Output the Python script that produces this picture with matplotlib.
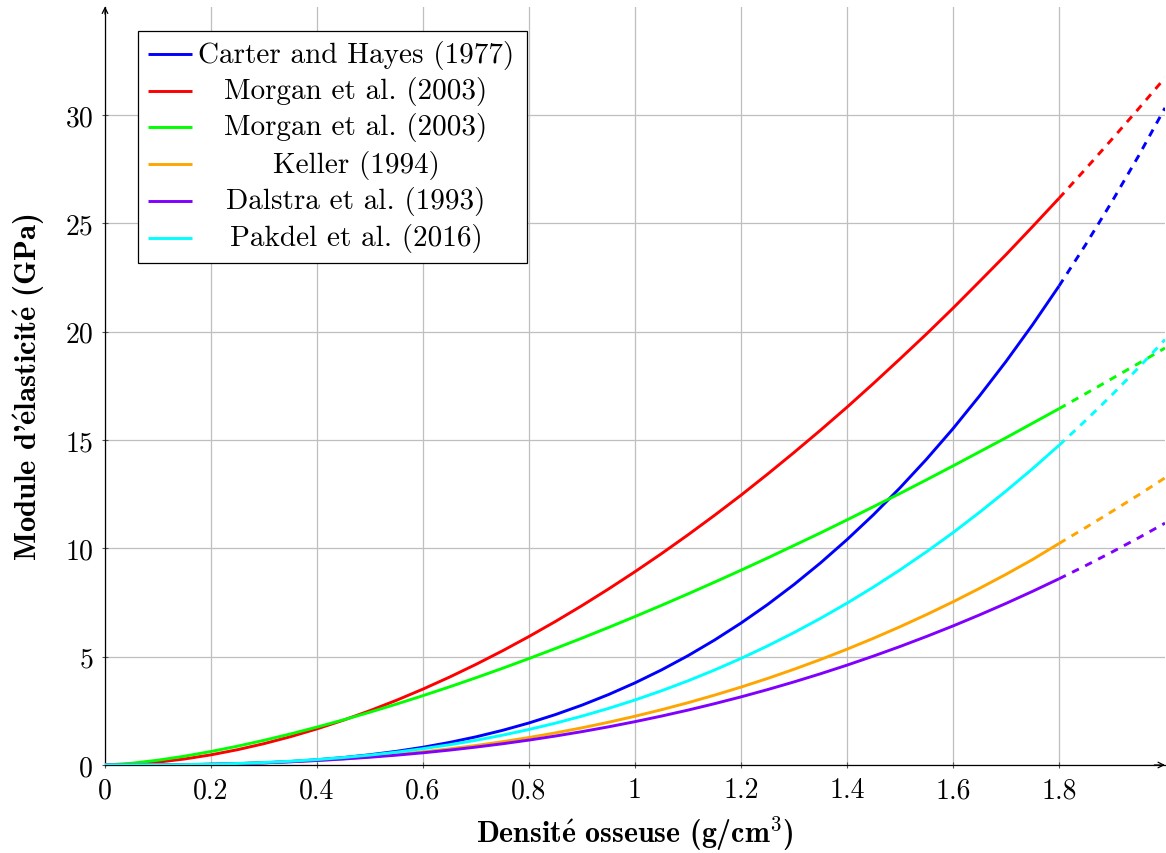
import matplotlib
matplotlib.use("Agg")
import matplotlib.pyplot as plt
from matplotlib.patches import Rectangle

plt.rcParams['font.family'] = ['cmr10', 'DejaVu Serif']
plt.rcParams['mathtext.fontset'] = 'cm'
plt.rcParams['axes.formatter.use_mathtext'] = True

# Density (g/cm^3)
density = [0.0, 0.05, 0.1, 0.15, 0.2, 0.25, 0.3, 0.35, 0.4, 0.45, 0.5,
           0.55, 0.6, 0.65, 0.7, 0.75, 0.8, 0.85, 0.9, 0.95, 1.0,
           1.05, 1.1, 1.15, 1.2, 1.25, 1.3, 1.35, 1.4, 1.45, 1.5,
           1.55, 1.6, 1.65, 1.7, 1.75, 1.8, 1.85, 1.9, 1.95, 2.0]

# Elastic modulus (GPa)
carter = [0.0, 0.0005, 0.004, 0.013, 0.030, 0.059, 0.102, 0.163, 0.243, 0.345, 0.474,
          0.631, 0.819, 1.041, 1.300, 1.599, 1.940, 2.328, 2.763, 3.250, 3.79,
          4.387, 5.044, 5.764, 6.549, 7.402, 8.327, 9.325, 10.40, 11.55, 12.79,
          14.11, 15.52, 17.03, 18.62, 20.31, 22.10, 24.00, 26.00, 28.10, 30.32]
morgan_red = [0.0, 0.037, 0.132, 0.277, 0.469, 0.706, 0.985, 1.306, 1.668, 2.069, 2.509,
              2.987, 3.503, 4.055, 4.644, 5.269, 5.930, 6.625, 7.355, 8.121, 8.92,
              9.753, 10.62, 11.52, 12.45, 13.42, 14.42, 15.45, 16.51, 17.61, 18.74,
              19.89, 21.08, 22.31, 23.55, 24.84, 26.15, 27.50, 28.88, 30.28, 31.71]
morgan_green = [0.0, 0.079, 0.222, 0.406, 0.623, 0.868, 1.139, 1.433, 1.749, 2.084, 2.439,
                2.811, 3.200, 3.605, 4.026, 4.462, 4.913, 5.377, 5.855, 6.346, 6.85,
                7.367, 7.895, 8.436, 8.988, 9.551, 10.13, 10.71, 11.31, 11.92, 12.53,
                13.16, 13.80, 14.45, 15.10, 15.77, 16.44, 17.13, 17.83, 18.53, 19.24]
keller = [0.0, 0.001, 0.006, 0.017, 0.036, 0.064, 0.102, 0.152, 0.214, 0.289, 0.379,
          0.484, 0.606, 0.744, 0.900, 1.074, 1.268, 1.482, 1.716, 1.972, 2.25,
          2.551, 2.874, 3.223, 3.595, 3.992, 4.417, 4.866, 5.343, 5.847, 6.379,
          6.940, 7.529, 8.150, 8.798, 9.479, 10.22, 10.95, 11.70, 12.46, 13.25]
dalstra = [0.0, 0.001, 0.007, 0.018, 0.037, 0.064, 0.101, 0.148, 0.206, 0.276, 0.359,
           0.454, 0.563, 0.687, 0.826, 0.980, 1.150, 1.337, 1.540, 1.761, 2.0,
           2.257, 2.533, 2.829, 3.143, 3.478, 3.834, 4.210, 4.607, 5.027, 5.467,
           5.931, 6.416, 6.925, 7.456, 8.012, 8.592, 9.196, 9.826, 10.48, 11.16]
pakdel = [0.0, 0.001, 0.006, 0.018, 0.038, 0.070, 0.115, 0.174, 0.250, 0.345, 0.459,
          0.594, 0.752, 0.933, 1.141, 1.376, 1.639, 1.931, 2.255, 2.611, 3.0,
          3.424, 3.884, 4.382, 4.917, 5.492, 6.109, 6.766, 7.467, 8.212, 9.002,
          9.840, 10.72, 11.66, 12.64, 13.67, 14.75, 15.89, 17.08, 18.33, 19.63]

labels = ["Carter and Hayes (1977)", "Morgan et al. (2003)", "Morgan et al. (2003)",
          "Keller (1994)", "Dalstra et al. (1993)", "Pakdel et al. (2016)"]
colors = ["#0000FF", "#FF0000", "#00FF00", "#FFA500", "#8000FF", "#00FFFF"]
series = [carter, morgan_red, morgan_green, keller, dalstra, pakdel]

xticks = [0, 0.2, 0.4, 0.6, 0.8, 1.0, 1.2, 1.4, 1.6, 1.8]
xticklabels = ["0", "0.2", "0.4", "0.6", "0.8", "1", "1.2", "1.4", "1.6", "1.8"]
yticks = [0, 5, 10, 15, 20, 25, 30]
yticklabels = ["0", "5", "10", "15", "20", "25", "30"]

W, H = 1166, 854
fig = plt.figure(figsize=(W / 100, H / 100), dpi=100)
ax_l, ax_r, ax_b, ax_t = 105, 1165, 766, 7.5
ax = fig.add_axes([ax_l / W, (H - ax_b) / H, (ax_r - ax_l) / W, (ax_b - ax_t) / H])

split = density.index(1.8)  # solid up to 1.8, dashed beyond
lw = 2.1
for ys, c in zip(series, colors):
    ax.plot(density[:split + 1], ys[:split + 1], color=c, lw=lw, solid_capstyle='butt',
            solid_joinstyle='round', zorder=3)
    ax.plot(density[split:], ys[split:], color=c, lw=lw, linestyle=(0, (2.6, 2.4)),
            dash_capstyle='butt', zorder=3)

ax.set_xlim(0, 2.0)
ax.set_ylim(0, 35)
ax.set_xticks(xticks)
ax.set_xticklabels(xticklabels)
ax.set_yticks(yticks)
ax.set_yticklabels(yticklabels)
ax.tick_params(labelsize=20, direction='inout', length=5, width=0.8, color='#555555', pad=6)
ax.grid(True, color='#BFBFBF', lw=0.9, zorder=0)
ax.set_axisbelow(True)
for s in ['top', 'right']:
    ax.spines[s].set_visible(False)
for s in ['left', 'bottom']:
    ax.spines[s].set_linewidth(0.9)
    ax.spines[s].set_color('black')

# axis arrows
ax.annotate('', xy=(1.0, 0), xytext=(0.99, 0), xycoords='axes fraction',
            arrowprops=dict(arrowstyle='->', lw=0.9, color='black', shrinkA=0, shrinkB=0), zorder=5)
ax.annotate('', xy=(0, 1.0), xytext=(0, 0.99), xycoords='axes fraction',
            arrowprops=dict(arrowstyle='->', lw=0.9, color='black', shrinkA=0, shrinkB=0), zorder=5)

ax.set_xlabel('Densit$\\mathbf{\\acute{e}}$ osseuse (g/cm$^{3}$)', fontsize=21.5, labelpad=7,
              family=['cmb10', 'DejaVu Serif'])
ax.set_ylabel("Module d'$\\mathbf{\\acute{e}}$lasticit$\\mathbf{\\acute{e}}$ (GPa)", fontsize=22,
              labelpad=13, family=['cmb10', 'DejaVu Serif'])

# legend drawn manually (pgfplots-like, centered text)
def fx(px):
    return (px - ax_l) / (ax_r - ax_l)

def fy(py):
    return (ax_b - py) / (ax_b - ax_t)

ax.add_patch(Rectangle((fx(138), fy(264)), fx(527) - fx(138), fy(32) - fy(264),
                       transform=ax.transAxes, facecolor='white', edgecolor='black',
                       lw=0.9, zorder=6))
row_y = [55, 92, 128, 165, 202, 239]
for lab, c, py in zip(labels, colors, row_y):
    ax.plot([fx(148), fx(192)], [fy(py), fy(py)], color=c, lw=lw, transform=ax.transAxes,
            zorder=7, solid_capstyle='butt')
    ax.text(fx(356), fy(py), lab, transform=ax.transAxes, ha='center', va='center',
            fontsize=21, zorder=7)

fig.savefig("out.png", dpi=100)
